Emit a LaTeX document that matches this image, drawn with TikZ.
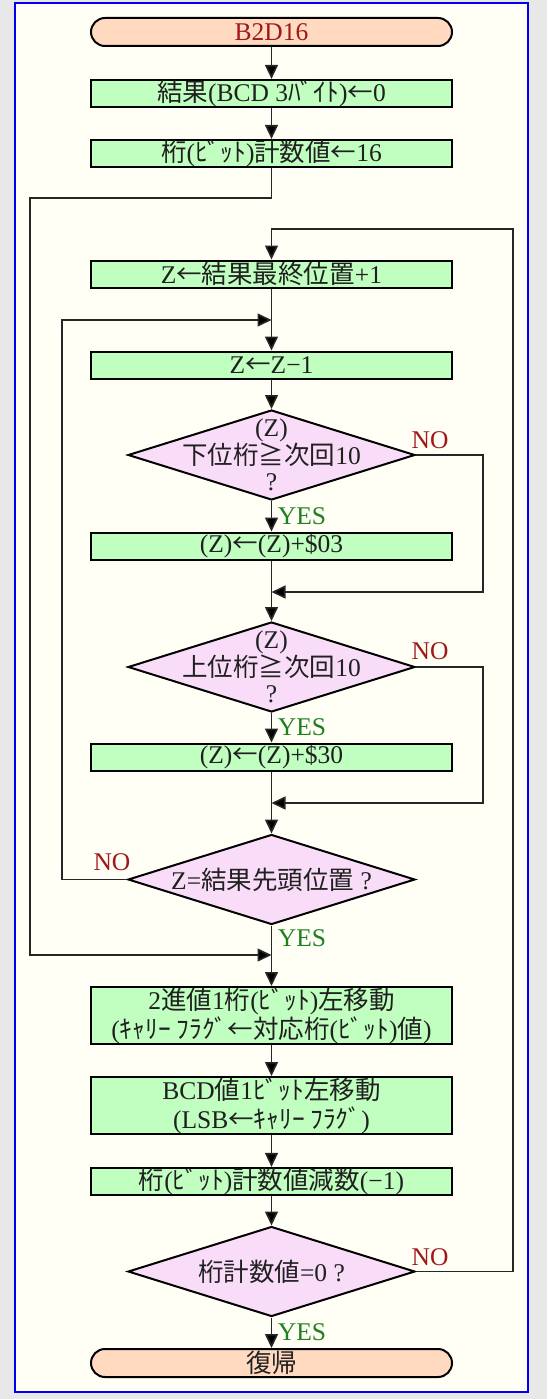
\documentclass[tikz,border=0pt]{standalone}
\usepackage{fontspec}
\setmainfont{Liberation Serif}
\newfontfamily\jp{Noto Sans CJK JP}
\usetikzlibrary{shapes.geometric,arrows.meta}
\definecolor{bgout}{HTML}{E8E8E8}
\definecolor{bgin}{HTML}{FFFFF6}
\definecolor{termfill}{HTML}{FFDAC0}
\definecolor{procfill}{HTML}{C0FFC0}
\definecolor{decfill}{HTML}{F8DCF8}
\definecolor{txt}{HTML}{202020}
\definecolor{nored}{HTML}{A01818}
\definecolor{yesgreen}{HTML}{208020}
\definecolor{lineclr}{HTML}{262626}
\definecolor{frameblue}{HTML}{0000F0}
\begin{document}
\begin{tikzpicture}[x=1pt,y=-1pt,
  every node/.style={font=\fontsize{25.5}{28}\selectfont, text=txt},
  term/.style={draw=black, line width=2pt, fill=termfill, rounded corners=14pt, minimum width=361pt, minimum height=28pt, inner sep=0pt},
  proc/.style={draw=black, line width=2pt, fill=procfill, minimum width=361pt, minimum height=27pt, inner sep=0pt, align=center},
  dec/.style={draw=black, line width=2pt, fill=decfill, shape=diamond, minimum width=287pt, minimum height=90pt, inner sep=0pt},
  dectext/.style={align=center, inner sep=0pt, font=\fontsize{25.5}{25.5}\selectfont},
  conn/.style={draw=lineclr, line width=1.6pt},
  arr/.style={conn, -{Triangle[length=14pt,width=13pt,fill=black]}},
  nolab/.style={text=nored},
  yeslab/.style={text=yesgreen}]
\useasboundingbox (0,0) rectangle (547,1399);
\fill[bgout] (0,0) rectangle (547,1399);
\draw[frameblue, line width=2pt, fill=bgin] (15,3.5) rectangle (528,1392);

% nodes
\node[term] (t0) at (271.5,32) {\textcolor{nored}{B2D16}};
\node[proc] (b1) at (271.5,93.5) {{\jp 結果}(BCD 3{\jp ﾊﾞｲﾄ}){\jp ←}0};
\node[proc] (b2) at (271.5,153.5) {{\jp 桁}({\jp ﾋﾞｯﾄ}){\jp 計数値←}16};
\node[proc] (b3) at (271.5,274) {Z{\jp ←結果最終位置}+1};
\node[proc] (b4) at (271.5,365) {Z{\jp ←}Z−1};
\node[dec] (d1) at (271.5,455) {};
\node[dectext] (d1t) at (d1) {(Z)\\{\jp 下位桁≧次回}10\\?};
\node[proc] (b5) at (271.5,546) {(Z){\jp ←}(Z)+\$03};
\node[dec] (d2) at (271.5,667) {};
\node[dectext] (d2t) at (d2) {(Z)\\{\jp 上位桁≧次回}10\\?};
\node[proc] (b6) at (271.5,757) {(Z){\jp ←}(Z)+\$30};
\node[dec] (d3) at (271.5,879.5) {};
\node[dectext] (d3t) at (d3) {Z={\jp 結果先頭位置} ?};
\node[proc, minimum height=57pt, font=\fontsize{25.5}{29}\selectfont] (b7) at (271.5,1015.5)
  {2{\jp 進値}1{\jp 桁}({\jp ﾋﾞｯﾄ}){\jp 左移動}\\({\jp ｷｬﾘｰ ﾌﾗｸﾞ←対応桁}({\jp ﾋﾞｯﾄ}){\jp 値})};
\node[proc, minimum height=57pt, font=\fontsize{25.5}{29}\selectfont] (b8) at (271.5,1105.5)
  {BCD{\jp 値}1{\jp ﾋﾞｯﾄ左移動}\\(LSB{\jp ←ｷｬﾘｰ ﾌﾗｸﾞ})};
\node[proc] (b9) at (271.5,1181.5) {{\jp 桁}({\jp ﾋﾞｯﾄ}){\jp 計数値減数}(−1)};
\node[dec] (d4) at (271.5,1271.5) {};
\node[dectext] (d4t) at (d4) {{\jp 桁計数値}=0 ?};
\node[term] (t1) at (271.5,1363) {{\jp 復帰}};

% junction coordinates
\coordinate (j0) at (271.5,229);
\coordinate (j1) at (271.5,320);
\coordinate (j2) at (271.5,592);
\coordinate (j3) at (271.5,803);
\coordinate (j4) at (271.5,955);
\coordinate (lx1) at (30,198);
\coordinate (lx2) at (62,320);
\coordinate (rx1) at (483,592);
\coordinate (rx2) at (483,803);
\coordinate (rx3) at (513,229);

% connectors
\draw[arr] (t0) -- (b1);
\draw[arr] (b1) -- (b2);
\draw[arr] (b2.south) |- (lx1) |- (j4);
\draw[arr] (d4.east) -| (rx3) -- (j0) -- (b3.north);
\draw[arr] (b3) -- (b4);
\draw[arr] (d3.west) -| (lx2) -- (j1);
\draw[arr] (b4) -- (d1);
\draw[arr] (d1) -- (b5);
\draw[arr] (d1.east) -| (rx1) -- (j2);
\draw[arr] (b5) -- (d2);
\draw[arr] (d2) -- (b6);
\draw[arr] (d2.east) -| (rx2) -- (j3);
\draw[arr] (b6) -- (d3);
\draw[arr] (d3) -- (b7);
\draw[arr] (b7) -- (b8);
\draw[arr] (b8) -- (b9);
\draw[arr] (b9) -- (d4);
\draw[arr] (d4) -- (t1);

% labels
\node[nolab] (n1) at (430,440) {NO};
\node[yeslab] (y1) at (302,516) {YES};
\node[nolab] (n2) at (430,651) {NO};
\node[yeslab] (y2) at (302,727) {YES};
\node[nolab] (n3) at (112,862) {NO};
\node[yeslab] (y3) at (302,938) {YES};
\node[nolab] (n4) at (430,1257) {NO};
\node[yeslab] (y4) at (302,1332) {YES};
\end{tikzpicture}
\end{document}
